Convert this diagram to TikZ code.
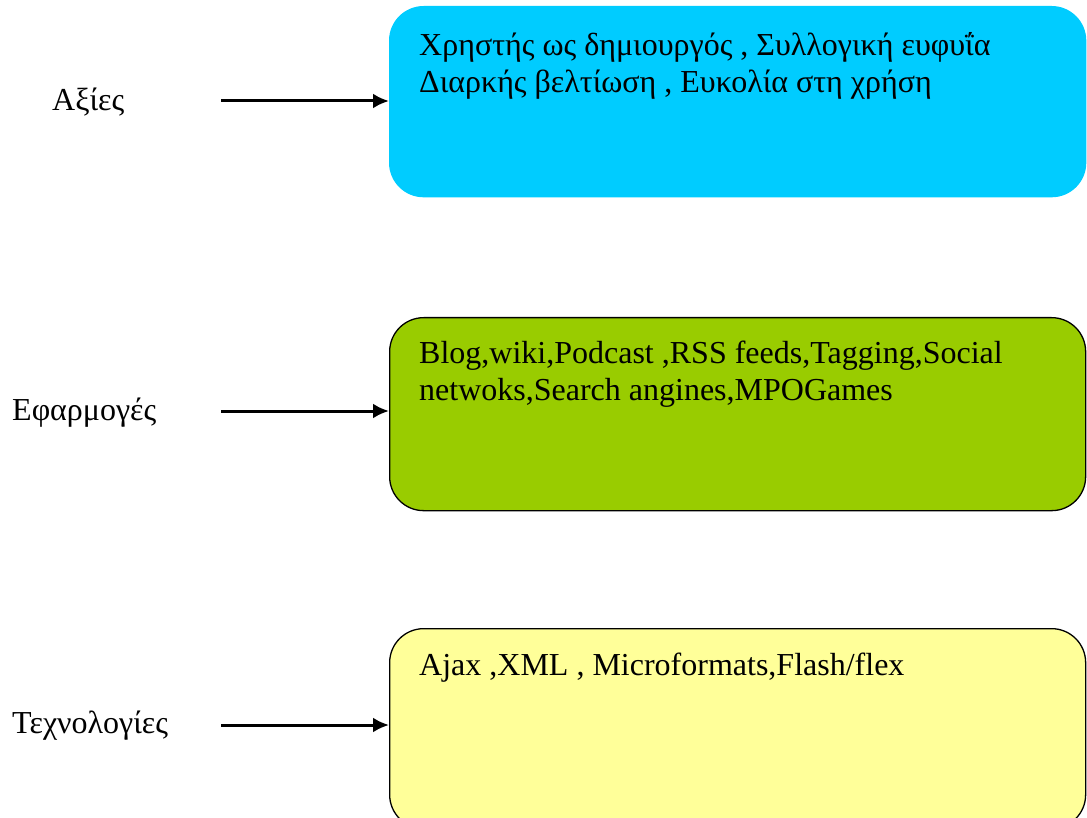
\documentclass[tikz,border=0pt]{standalone}
\usepackage{fontspec}
\setmainfont{Liberation Serif}
\usetikzlibrary{arrows.meta}
\definecolor{boxcyan}{HTML}{00CCFF}
\definecolor{boxgreen}{HTML}{99CC00}
\definecolor{boxyellow}{HTML}{FFFF99}
\tikzset{
  box/.style={rounded corners=34pt, minimum width=696pt, anchor=north west, inner sep=0pt, line width=1.3pt},
  boxtext/.style={anchor=north west, align=left, inner sep=0pt, font=\fontsize{32}{37}\selectfont},
  lbl/.style={anchor=west, inner sep=0pt, font=\fontsize{32}{36}\selectfont},
  arr/.style={line width=3pt, -{Latex[length=16pt,width=15pt]}}
}
\begin{document}
\begin{tikzpicture}[x=1pt,y=-1pt]
\useasboundingbox (0,0) rectangle (1087,818);
% boxes
\node[box, fill=boxcyan, draw=boxcyan, minimum height=190pt] (b1) at (389,6) {};
\node[box, fill=boxgreen, draw=black, minimum height=193pt] (b2) at (389,317) {};
\node[box, fill=boxyellow, draw=black, minimum height=200pt] (b3) at (389,628) {};
% box texts
\node[boxtext] (t1) at (419,32) {Χρηστής ως δημιουργός , Συλλογική ευφυΐα\\Διαρκής βελτίωση , Ευκολία στη χρήση};
\node[boxtext] (t2) at (419,341) {Blog,wiki,Podcast ,RSS feeds,Tagging,Social\\netwoks,Search angines,MPOGames};
\node[boxtext] (t3) at (419,653) {Ajax ,XML , Microformats,Flash/flex};
% labels
\node[lbl] (l1) at (52,102) {Αξίες};
\node[lbl] (l2) at (12,413) {Εφαρμογές};
\node[lbl] (l3) at (12,726) {Τεχνολογίες};
% arrows
\coordinate (s1) at (221,101);
\coordinate (s2) at (221,411);
\coordinate (s3) at (221,725);
\draw[arr] (s1) -- (s1 -| b1.west);
\draw[arr] (s2) -- (s2 -| b2.west);
\draw[arr] (s3) -- (s3 -| b3.west);
\end{tikzpicture}
\end{document}
